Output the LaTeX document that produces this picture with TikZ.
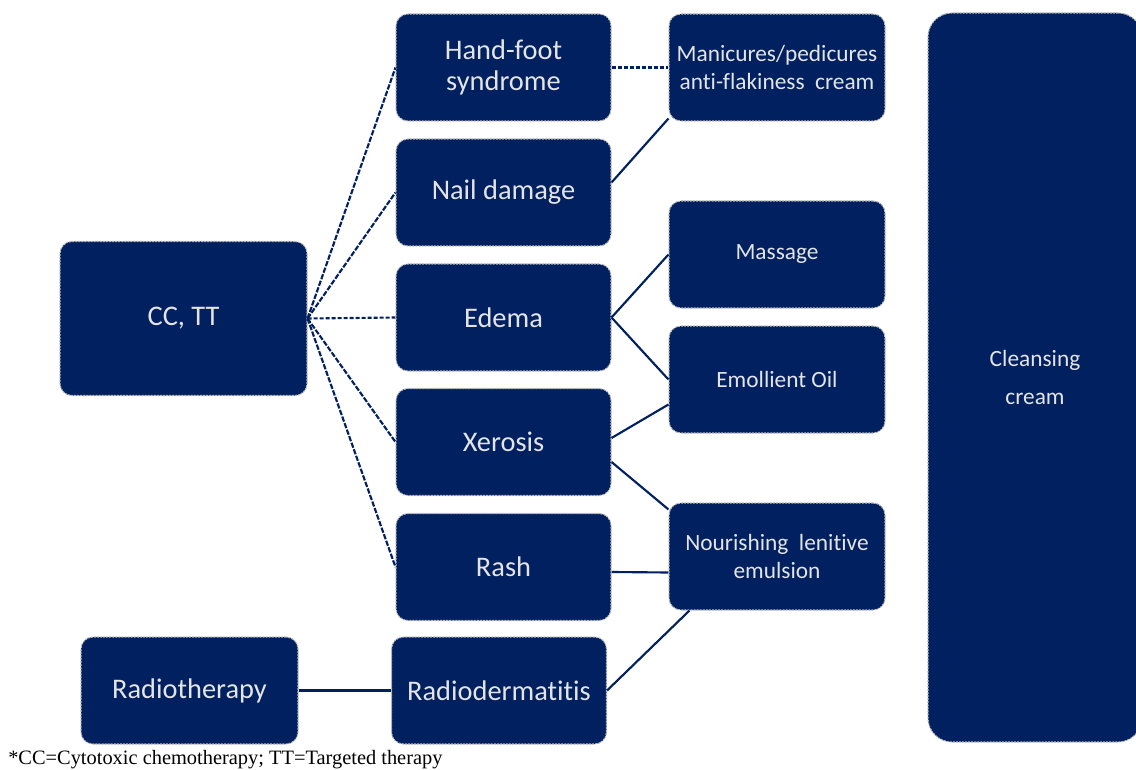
\documentclass[tikz,border=0pt]{standalone}
\usepackage{fontspec}
\setmainfont{Carlito}[Ligatures=NoCommon]
\newfontfamily\timesfont{Liberation Serif}
\usetikzlibrary{calc}
\definecolor{navy}{RGB}{0,32,96}
\definecolor{boxtext}{RGB}{228,228,228}
\definecolor{rim}{RGB}{185,185,185}
\begin{document}
\begin{tikzpicture}[x=0.75pt,y=-0.75pt,
  box/.style={draw=rim, line width=0.8pt, dash pattern=on 1.5pt off 0.8pt, fill=navy,
    rounded corners=9pt, inner sep=0pt, text=boxtext, align=center},
  mid/.style={box, minimum width=161.25pt, minimum height=80.25pt, font=\fontsize{21.3}{23.5}\selectfont},
  rcol/.style={box, minimum width=162pt, minimum height=80.25pt, font=\fontsize{17.5}{20.3}\selectfont},
  link/.style={draw=navy, line width=1.6pt},
  dlink/.style={link, dash pattern=on 4pt off 1.2pt}]
\useasboundingbox (0,0) rectangle (1136,770);
\clip (0,0) rectangle (1136,770);
\node[box, minimum width=185.25pt, minimum height=115.5pt, font=\fontsize{21.3}{23.5}\selectfont] (cc) at (183.5,318.5) {CC, TT};
\node[mid] (hfs) at (503.5,67.5) {Hand-foot\\syndrome};
\node[mid] (nail) at (503.5,192.5) {Nail damage};
\node[mid] (ede) at (503.5,317.5) {Edema};
\node[mid] (xer) at (503.5,442) {Xerosis};
\node[mid] (rash) at (503.5,567) {Rash};
\node[mid] (rad) at (499,690.5) {Radiodermatitis};
\node[mid, minimum width=162.75pt] (rt) at (189.5,690.5) {Radiotherapy};
\node[rcol] (man) at (777,67.5) {Manicures/pedicures\\anti-flakiness\ \ cream};
\node[rcol] (mas) at (777,254.5) {Massage};
\node[rcol] (emo) at (777,379.5) {Emollient Oil};
\node[rcol] (nour) at (777,556.5) {Nourishing\ \ lenitive\\emulsion};
\node[box, minimum width=160.5pt, minimum height=546.75pt, rounded corners=18pt, font=\fontsize{17.5}{29}\selectfont] (cl) at (1035,377.5) {Cleansing\\cream};
\node[anchor=west, inner sep=0pt, font=\timesfont\fontsize{15.3}{18}\selectfont] (fn) at (8,760) {*CC=Cytotoxic chemotherapy; TT=Targeted therapy};
\draw[dlink] (cc.east) -- (hfs.west);
\draw[dlink] (cc.east) -- (nail.west);
\draw[dlink, dash pattern=on 3pt off 1.5pt] (cc.east) -- (ede.west);
\draw[dlink] (cc.east) -- (xer.west);
\draw[dlink] (cc.east) -- (rash.west);
\draw[link, dash pattern=on 3pt off 1.5pt] (hfs.east) -- (man.west);
\draw[link] ($(nail.east)+(0,-10)$) -- ($(man.south west)+(0,-3)$);
\draw[link] (ede.east) -- (mas.west);
\draw[link] (ede.east) -- (emo.west);
\draw[link] ($(xer.east)+(0,-4)$) -- ($(emo.west)+(0,25)$);
\draw[link] ($(xer.east)+(0,20)$) -- ($(nour.north west)+(0,7)$);
\draw[link] ($(rash.east)+(0,5)$) -- ($(nour.west)+(0,16)$);
\draw[link] (rad.east) -- ($(nour.south west)+(21,0)$);
\draw[link] (rt.east) -- (rad.west);
\end{tikzpicture}
\end{document}
